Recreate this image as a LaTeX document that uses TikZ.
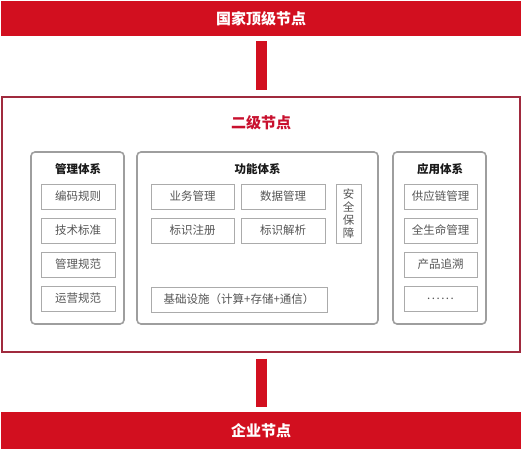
\documentclass[tikz,border=0pt]{standalone}
\usepackage{fontspec}
\setmainfont{Noto Sans CJK SC}
\usetikzlibrary{positioning, calc}

\definecolor{barred}{HTML}{D20F1F}
\definecolor{framered}{HTML}{A02A3E}
\definecolor{titlered}{HTML}{C8102E}
\definecolor{groupgray}{HTML}{9E9E9E}
\definecolor{itemgray}{HTML}{ABABAB}
\definecolor{textgray}{HTML}{555555}

\newcommand{\moredots}{.\kern1.5pt.\kern1.5pt.\kern1.5pt.\kern1.5pt.\kern1.5pt.}

\tikzset{
	redbar/.style={fill=barred, text=white, inner sep=0pt, minimum width=520pt,
		font=\bfseries\fontsize{15}{17}\selectfont},
	frame/.style={draw=framered, line width=2pt, inner sep=0pt,
		minimum width=518pt, minimum height=255pt},
	groupbox/.style={draw=groupgray, line width=1.6pt, rounded corners=4pt,
		inner sep=0pt, minimum height=172pt},
	grouptitle/.style={text=black!90, font=\bfseries\fontsize{11.5}{13}\selectfont, inner sep=0pt},
	itembox/.style={draw=itemgray, line width=0.8pt, inner sep=0pt, minimum height=25pt,
		text=textgray, font=\fontsize{11.5}{13}\selectfont},
	link/.style={draw=barred, line width=11pt}
}

\begin{document}
\begin{tikzpicture}
	\begin{scope}[x=1pt, y=-1pt]
		\useasboundingbox (0,0) rectangle (525,450);
		% top and bottom levels
		\node[redbar, minimum height=35pt] (national) at (261,18.5) {国家顶级节点};
		\node[redbar, minimum height=37pt] (enterprise) at (261,430.5) {企业节点};
		% second level frame
		\node[frame] (second) at (261,224) {};
		\node[text=titlered, font=\bfseries\fontsize{15}{17}\selectfont, inner sep=0pt] (secondtitle) at (261,123) {二级节点};
		\draw[link, shorten <=5pt, shorten >=6pt] (national) -- (second);
		\draw[link, shorten <=6pt, shorten >=5pt] (second) -- (enterprise);
		% groups
		\node[groupbox, minimum width=93pt] (mgmt) at (77.5,238) {};
		\node[groupbox, minimum width=241pt] (func) at (257.5,238) {};
		\node[groupbox, minimum width=93pt] (app) at (439.5,238) {};
		\node[grouptitle] (mgmttitle) at (78,169) {管理体系};
		\node[grouptitle] (functitle) at (257.5,169) {功能体系};
		\node[grouptitle] (apptitle) at (440,169) {应用体系};
		% management items
		\foreach \txt [count=\i] in {编码规则,技术标准,管理规范,运营规范}
			\node[itembox, minimum width=74pt] (mgmt\i) at (78,{162.5+34*\i}) {\txt};
		% application items
		\foreach \txt [count=\i] in {供应链管理,全生命管理,产品追溯,\moredots}
			\node[itembox, minimum width=73pt] (app\i) at (440.5,{162.5+34*\i}) {\txt};
		% function items
		\node[itembox, minimum width=83pt] (business) at (192.5,196.5) {业务管理};
		\node[itembox, minimum width=84pt] (data) at (283,196.5) {数据管理};
		\node[itembox, minimum width=83pt] (register) at (192.5,230.5) {标识注册};
		\node[itembox, minimum width=84pt] (resolve) at (283,230.5) {标识解析};
		\node[itembox, minimum width=25pt, minimum height=59pt, align=center,
			font=\fontsize{11.5}{12.8}\selectfont] (security) at (348.5,213.5) {安\\全\\保\\障};
		\node[itembox, minimum width=176pt] (infra) at (239,299.5) {基础设施（计算+存储+通信）};
	\end{scope}
\end{tikzpicture}
\end{document}
